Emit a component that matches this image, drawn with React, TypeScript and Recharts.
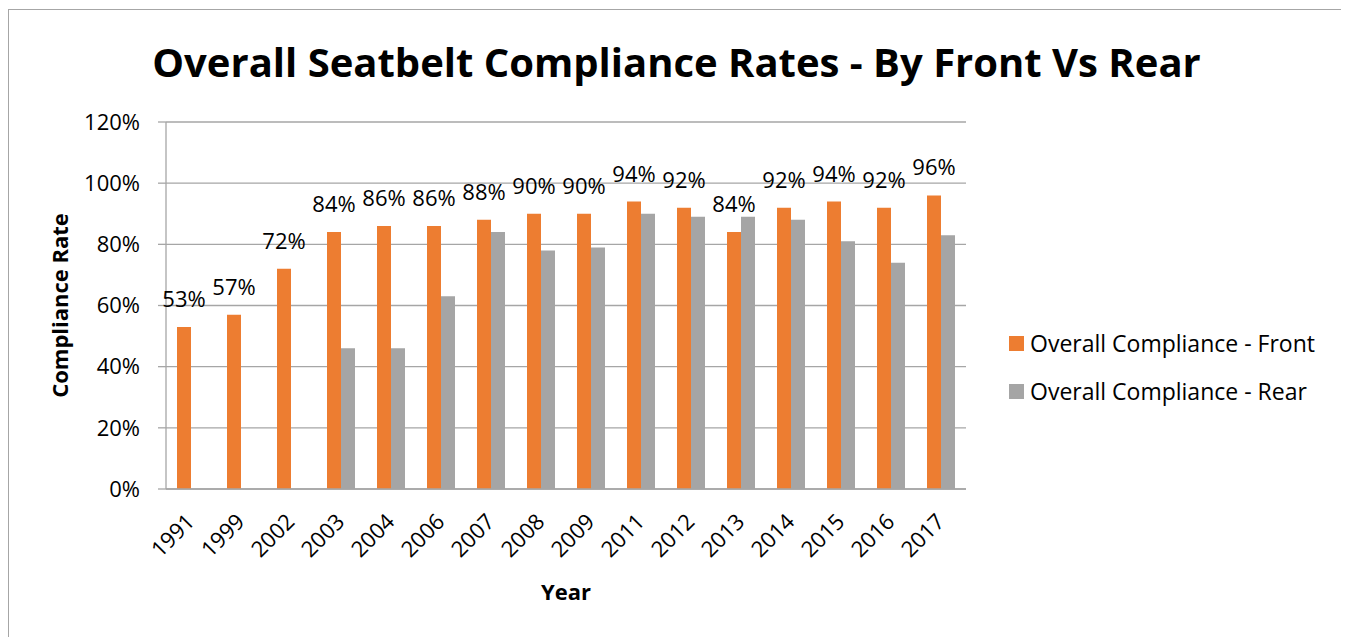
import { BarChart, Bar, CartesianGrid, XAxis, YAxis, LabelList } from "recharts";

const years = ["1991", "1999", "2002", "2003", "2004", "2006", "2007", "2008", "2009", "2011", "2012", "2013", "2014", "2015", "2016", "2017"];
const frontRates = [53, 57, 72, 84, 86, 86, 88, 90, 90, 94, 92, 84, 92, 94, 92, 96];
const rearRates = [null, null, null, 46, 46, 63, 84, 78, 79, 90, 89, 89, 88, 81, 74, 83];
const yTicks = [0, 20, 40, 60, 80, 100, 120];

const series = [
  { key: "front", name: "Overall Compliance - Front", color: "#ED7D31" },
  { key: "rear", name: "Overall Compliance - Rear", color: "#A5A5A5" },
];

const data = years.map((year, i) => ({ year, front: frontRates[i], rear: rearRates[i] }));

const FONT = "'Open Sans', sans-serif";

function YearTick({ x, y, payload }: any) {
  return (
    <text
      x={x + 5}
      y={y + 32}
      transform={`rotate(-45 ${x + 5} ${y + 32})`}
      textAnchor="end"
      fontSize={22}
      fontFamily={FONT}
      fill="#000"
    >
      {payload.value}
    </text>
  );
}

function YTitle({ viewBox }: any) {
  const cx = viewBox.x - 18;
  const cy = viewBox.y + viewBox.height / 2;
  return (
    <text
      x={cx}
      y={cy}
      transform={`rotate(-90 ${cx} ${cy})`}
      textAnchor="middle"
      fontSize={22}
      fontWeight={700}
      fontFamily={FONT}
      fill="#000"
    >
      Compliance Rate
    </text>
  );
}

function XTitle({ viewBox }: any) {
  return (
    <text
      x={viewBox.x + viewBox.width / 2}
      y={viewBox.y + 111}
      textAnchor="middle"
      fontSize={22}
      fontWeight={700}
      fontFamily={FONT}
      fill="#000"
    >
      Year
    </text>
  );
}

function TopLabel({ x, y, width, value }: any) {
  if (value == null) return null;
  return (
    <text x={x + width / 2} y={y - 20} textAnchor="middle" fontSize={22} fontFamily={FONT} fill="#000">
      {value}%
    </text>
  );
}

export default function App() {
  return (
    <div
      style={{
        position: "relative",
        width: 1337,
        height: 630,
        marginTop: 1,
        border: "1px solid #a6a6a6",
        borderBottom: "none",
        boxSizing: "border-box",
        fontFamily: FONT,
        background: "#fff",
      }}
    >
      <style>{`body{overflow:hidden}`}</style>
      <div
        style={{
          position: "absolute",
          left: 0,
          top: 32,
          width: "100%",
          textAlign: "center",
          fontSize: 40,
          lineHeight: "40px",
          fontWeight: 700,
          color: "#000",
        }}
      >
        Overall Seatbelt Compliance Rates - By Front Vs Rear
      </div>
      <BarChart
        width={1335}
        height={628}
        data={data}
        margin={{ top: 112, right: 378, bottom: 0, left: 77 }}
        barSize={14}
        barGap={0}
      >
        <CartesianGrid vertical={false} stroke="#a6a6a6" strokeWidth={1.3} />
        <XAxis
          dataKey="year"
          height={149}
          tickSize={0}
          tickLine={false}
          axisLine={{ stroke: "#a6a6a6", strokeWidth: 1.3 }}
          tick={<YearTick />}
          interval={0}
          label={<XTitle />}
        />
        <YAxis
          width={80}
          domain={[0, 120]}
          ticks={yTicks}
          tickFormatter={(v: number) => `${v}%`}
          tickSize={8}
          tickMargin={18}
          tick={{ fontSize: 22, fontFamily: FONT, fill: "#000" }}
          tickLine={{ stroke: "#a6a6a6", strokeWidth: 1.3 }}
          axisLine={{ stroke: "#a6a6a6", strokeWidth: 1.3 }}
          label={<YTitle />}
        />
        <Bar dataKey="front" name={series[0].name} fill={series[0].color} isAnimationActive={false}>
          <LabelList dataKey="front" content={<TopLabel />} />
        </Bar>
        <Bar dataKey="rear" name={series[1].name} fill={series[1].color} isAnimationActive={false} />
      </BarChart>
      <div style={{ position: "absolute", left: 1000, top: 309 }}>
        {series.map((s) => (
          <div key={s.key} style={{ display: "flex", alignItems: "center", height: 48 }}>
            <span style={{ width: 15, height: 15, background: s.color, marginRight: 6 }} />
            <span style={{ fontSize: 23, color: "#000", whiteSpace: "nowrap" }}>{s.name}</span>
          </div>
        ))}
      </div>
    </div>
  );
}
